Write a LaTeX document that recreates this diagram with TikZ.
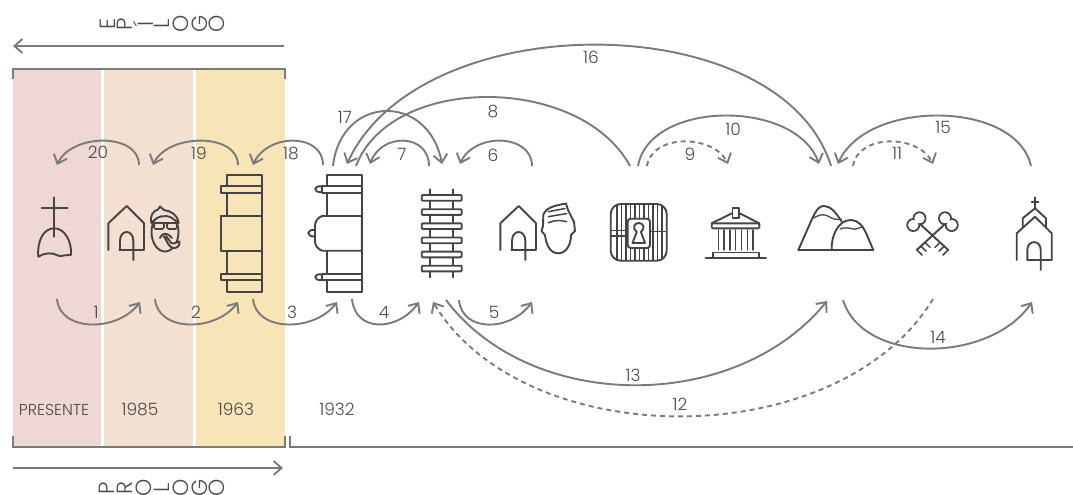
\documentclass[tikz,border=0pt]{standalone}
\usepackage{fontspec}
\setmainfont{Poppins}[UprightFont=* Light]
\usetikzlibrary{arrows.meta,bending}
\definecolor{bandA}{HTML}{EFD7D5}
\definecolor{bandB}{HTML}{F4E0D0}
\definecolor{bandC}{HTML}{F7E5B8}
\definecolor{conn}{HTML}{7A7A7A}
\definecolor{icon}{HTML}{444444}
\definecolor{txt}{HTML}{4A4A4A}
\tikzset{
  arcline/.style={draw=conn,line width=1.9pt,-{Straight Barb[length=8pt,width=14pt,line width=1.9pt,flex=0.8]}},
  arcplain/.style={draw=conn,line width=1.9pt},
  dashline/.style={arcline,dash pattern=on 5pt off 4pt},
  rule/.style={draw=conn,line width=1.9pt},
  ic/.style={draw=icon,line width=1.9pt,line join=round,line cap=round},
  lab/.style={text=txt,font=\fontsize{17}{17}\selectfont,inner sep=0pt},
  yr/.style={text=txt,font=\fontsize{17}{17}\selectfont,inner sep=0pt},
  letter/.style={text=txt,font=\fontsize{22}{22}\selectfont,inner sep=0pt,rotate=90},
  pics/house/.style={code={
    \draw[ic] (108.3,250)--(108.3,223.3)--(126.7,206)--(144,223.3)--(144,250)--(119.3,250);
    \draw[ic] (120,250)--(120,241) .. controls (120,229) and (133.3,229) .. (133.3,241)--(133.3,260);
  }},
}
\begin{document}
\begin{tikzpicture}[x=1pt,y=-1pt]
\useasboundingbox (0,0) rectangle (1073,495);
% bands
\fill[bandA] (13,69) rectangle (101,447);
\fill[bandB] (104,69) rectangle (193,447);
\fill[bandC] (196,69) rectangle (285,447);
% brackets and long arrows
\coordinate (bt1) at (13,79); \coordinate (bt2) at (13,69); \coordinate (bt3) at (285,69); \coordinate (bt4) at (285,79);
\draw[rule] (bt1)--(bt2)--(bt3)--(bt4);
\coordinate (bb1) at (13,436); \coordinate (bb2) at (13,447); \coordinate (bb3) at (285,447); \coordinate (bb4) at (285,436);
\draw[rule] (bb1)--(bb2)--(bb3)--(bb4);
\coordinate (bc1) at (290,436); \coordinate (bc2) at (290,447); \coordinate (bc3) at (1073,447);
\draw[rule] (bc1)--(bc2)--(bc3);
\coordinate (ep1) at (284,46); \coordinate (ep2) at (13,46);
\draw[arcline] (ep1)--(ep2);
\coordinate (pr1) at (13,468); \coordinate (pr2) at (283,468);
\draw[arcline] (pr1)--(pr2);
% rotated letters
\node[letter] (e1) at (107.5,24) {E};
\node[letter] (e2) at (125,24) {P};
\node[letter] (e3) at (143,24) {Í};
\node[letter] (e4) at (162,24) {L};
\node[letter] (e5) at (180.5,24) {O};
\node[letter] (e6) at (199.5,24) {G};
\node[letter] (e7) at (217,24) {O};
\node[letter] (p1) at (107,488) {P};
\node[letter] (p2) at (125,488) {R};
\node[letter] (p3) at (144,488) {O};
\node[letter] (p4) at (162,488) {L};
\node[letter] (p5) at (180.5,488) {O};
\node[letter] (p6) at (199.5,488) {G};
\node[letter] (p7) at (217,488) {O};
% end points of connectors
\foreach \n/\x/\y in {s1/57/299,t1/140/302,s2/155/299,t2/238/302,s3/253/299,t3/337/302,s4/352/299,t4/419/302,s5/459/300,t5/532/302,
 s13/446/300,t13/827/301,s12/933/299,t12/433/302,s14/843/300,t14/1032/302,
 s20/139/165,t20/57/165,s19/238/165,t19/153/165,s18/323/165,t18/253/165,
 s17/333/166,t17/442/164,s16/831/166,t16/347/164,s8/630/166,t8/356/166,
 s7/429/166,t7/370/164,s6/532/166,t6/460/164,s10/638/166,t10/819/164,s9/647/166,t9/728/164,
 s15/1031/166,t15/838/164,s11/853/166,t11/933/164}
 {\coordinate (\n) at (\x,\y);}
% lower connectors
\draw[arcline] (s1) .. controls +(3,34) and +(-20,30) .. (t1);
\draw[arcline] (s2) .. controls +(3,34) and +(-20,30) .. (t2);
\draw[arcline] (s3) .. controls +(3,34) and +(-20,30) .. (t3);
\draw[arcline] (s4) .. controls +(3,34) and +(-20,30) .. (t4);
\draw[arcline] (s5) .. controls +(3,33) and +(-20,30) .. (t5);
\draw[arcline] (s13) .. controls +(85,113) and +(-90,113) .. (t13);
\draw[dashline] (s12) .. controls +(-95,156) and +(90,153) .. (t12);
\draw[arcline] (s14) .. controls +(20,65) and +(-40,62) .. (t14);
% upper connectors
\draw[arcline] (s20) .. controls +(0,-33) and +(12,-32) .. (t20);
\draw[arcline] (s19) .. controls +(0,-33) and +(12,-32) .. (t19);
\draw[arcline] (s18) .. controls +(0,-33) and +(12,-32) .. (t18);
\draw[arcline] (s17) .. controls +(8,-72) and +(-12,-72) .. (t17);
\draw[arcline] (s16) .. controls +(-50,-161) and +(70,-160) .. (t16);
\draw[arcplain] (s8) .. controls +(-50,-92) and +(35,-92) .. (t8);
\draw[arcline] (s7) .. controls +(0,-33) and +(10,-32) .. (t7);
\draw[arcline] (s6) .. controls +(0,-33) and +(12,-32) .. (t6);
\draw[arcline] (s10) .. controls +(12,-67) and +(-20,-65) .. (t10);
\draw[dashline] (s9) .. controls +(5,-33) and +(-12,-30) .. (t9);
\draw[arcline] (s15) .. controls +(-15,-67) and +(25,-65) .. (t15);
\draw[dashline] (s11) .. controls +(5,-33) and +(-12,-30) .. (t11);
% labels
\foreach \n/\x/\y/\t in {l1/96/312/1,l2/196/312/2,l3/292/312/3,l4/384/312/4,l5/494/312/5,l13/633/375/13,l12/680/404/12,l14/938/337/14,
 l20/98/152/20,l19/199/153/19,l18/291/153/18,l17/345/117/17,l7/402/154/7,l6/493/155/6,l8/493/111/8,l16/591/57/16,l10/733/129/10,l9/690/154/9,l11/897/153/11,l15/943/127/15,
 y85/140/409/1985,y63/236/409/1963,y32/337/409/1932}
 {\node[lab] (\n) at (\x,\y) {\t};}
\node[yr,font=\fontsize{15.8}{16}\selectfont] (ypres) at (54,410) {PRESENTE};
% grave
\draw[ic] (54.3,197.3)--(54.3,236.7) (41.7,208)--(67.7,208);
\draw[ic] (38.3,256.7) .. controls (37,240) and (44,228.3) .. (54.3,228.3) .. controls (65,228.3) and (72,242) .. (71,255) .. controls (62,255) and (60,257) .. (58,255.5) .. controls (52,252) and (44,253) .. (38.3,256.7);
% houses
\pic {house};
\begin{scope}[xshift=392pt]\pic {house};\end{scope}
% pipe man
\draw[ic] (165,232) ellipse (13.5 and 19.5);
\draw[ic,fill=bandB] (151.5,223) .. controls (149.5,216) and (153,211) .. (158,209.5) -- (160,206.5) -- (164,210) .. controls (171,211) and (178,215) .. (178.5,223) -- (172,218) .. controls (165,214) and (157,216) .. cycle;
\draw[ic] (151.5,223)--(178.5,223);
\draw[ic,fill=bandB,line width=1.7pt,rounded corners=1.5pt] (154,223) rectangle (164,229);
\draw[ic,fill=bandB,line width=1.7pt,rounded corners=1.5pt] (167,223) rectangle (177,229);
\draw[ic] (160,238) .. controls (163,231.5) and (168,233) .. (172,238);
\draw[ic,fill=bandB] (163.5,236) .. controls (167,240) and (168,247) .. (173,248) .. controls (177,248.5) and (180,246) .. (179.5,241.5) -- (173.5,243.5) -- (171,243) .. controls (169,240) and (168,238) .. (166,236);
% suitcases
\draw[ic] (226.7,175) rectangle (261.7,291.7);
\draw[ic,fill=bandC] (221,186) rectangle (261.7,192.7);
\draw[ic,fill=bandC] (221,274) rectangle (261.7,280);
\draw[ic,fill=bandC] (221,216) rectangle (261.7,250.7);
\draw[ic] (326.7,175) rectangle (361.7,291.7);
\draw[ic,fill=white] (321.7,186) rectangle (361.7,192.7);
\draw[ic,fill=white] (321.7,274) rectangle (361.7,280);
\draw[ic,fill=white] (361.7,216) -- (322,216) .. controls (317,218) and (315,222) .. (315,226) -- (315,241) .. controls (315,246) and (318,249) .. (322,250.7) -- (361.7,250.7) -- cycle;
\draw[ic] (321.7,186.5) .. controls (313,185) and (313,193) .. (321.7,192);
\draw[ic] (321.7,274.5) .. controls (313,273) and (313,281) .. (321.7,280);
\draw[ic] (315,230) .. controls (306,229) and (306,237) .. (315,236.5);
% track
\draw[ic] (430,189.3)--(430,277.3) (453.3,189.3)--(453.3,277.3);
\foreach \y in {195,209.2,223.3,237.5,251.6,265.7}
  \draw[ic,fill=white,rounded corners=1pt] (421.7,\y) rectangle (461.7,\y+5.7);
% bald face
\draw[ic] (543.3,215) .. controls (546,208) and (552,206) .. (566,203.5) -- (568,210) -- (574,222) -- (575,231) -- (571,235) .. controls (571,245) and (566,253.3) .. (558.3,253.3) .. controls (549,253.3) and (546,243) .. (545,235) -- (541.5,231) -- (543,226) -- cycle;
\draw[ic,line width=1.5pt] (548.3,211.7)--(565,208.5) (548.3,216.7) -- (566.7,213.5) (548.3,222.7) .. controls (555,220) and (560,220) .. (566.7,221.7);
% grate lock
\foreach \x in {617,621.5,626,630.5,635,639.5,644,648.5,653,657.5,662}
  \draw[ic,line width=1.7pt,line cap=butt] (\x,205)--(\x,260);
\draw[ic,rounded corners=10pt] (610.7,204) rectangle (666.7,260.7);
\draw[ic,line width=1.5pt] (611,230.7)--(627,230.7) (650.7,231.7)--(666,231.7) (611,236)--(627,236);
\draw[ic,fill=white,rounded corners=3pt] (627.7,218.7) rectangle (650,248);
\draw[ic] (636.7,232) .. controls (632,228) and (634,223) .. (638.8,223) .. controls (643.5,223) and (645.5,228) .. (641,232) -- (645,243) -- (632.5,243) -- cycle;
% bank
\draw[ic] (711.7,223.3)--(732.5,213) (739,213)--(759.3,223.3);
\draw[ic] (732.5,208.3) rectangle (739.3,218);
\draw[ic,rounded corners=1pt] (711.7,223.3) rectangle (759.3,228.3);
\foreach \x in {718.3,724.1,729.9,735.7,741.5,747.3,753.1} \draw[ic,line width=1.5pt] (\x,230)--(\x,250);
\draw[ic] (712.7,258)--(712.7,252.5)--(759.3,252.5)--(759.3,258);
\draw[ic] (705.5,257.7)--(766,257.7);
% mountains
\draw[ic] (798.3,250)--(873.3,250);
\draw[ic] (798.3,250) -- (812,219) .. controls (817,208) and (820,206) .. (824,206) .. controls (831,206) and (836,213) .. (841.7,221.5);
\draw[ic] (831.7,250) .. controls (831,236) and (838,220) .. (851,220) .. controls (858,220) and (863,226) .. (866,233) -- (873.3,250);
\draw[ic,line width=1.3pt] (813,218) .. controls (818,216) and (821,214) .. (825,215) .. controls (830,216) and (833,221) .. (841,219);
\draw[ic,line width=1.3pt] (840,229) .. controls (845,227) and (849,228) .. (853,229) .. controls (857,230) and (859,227) .. (863,227);
% keys
\draw[ic] (919.5,218.3) circle (6) (913.3,225) circle (6);
\draw[ic] (945,218.3) circle (6) (951.7,225) circle (6);
\fill[white] (919.5,218.3) circle (5.1) (913.3,225) circle (5.1);
\fill[white] (945,218.3) circle (5.1) (951.7,225) circle (5.1);
\draw[ic] (920,224)--(948.3,250) (945,224)--(916.7,250);
\draw[ic,line width=1.5pt] (917,250)--(922,255) (921,246.2)--(926,251.2) (925,242.4)--(930,247.4);
\draw[ic,line width=1.5pt] (948,250)--(943,255) (944,246.2)--(939,251.2) (940,242.4)--(935,247.4);
% church
\draw[ic] (1035,197.3)--(1035,208.3) (1031.7,201.7)--(1038.3,201.7);
\draw[ic] (1022.7,226.7)--(1022.7,218.3)--(1035,208.3)--(1046,218.3)--(1046,226.7);
\draw[ic] (1016.7,260)--(1016.7,233.3)--(1035,216.7)--(1051.7,233.3)--(1051.7,260)--(1027.3,260);
\draw[ic] (1027.3,260)--(1027.3,250) .. controls (1027.3,239.5) and (1040.7,239.5) .. (1040.7,250)--(1040.7,270);
\end{tikzpicture}
\end{document}
